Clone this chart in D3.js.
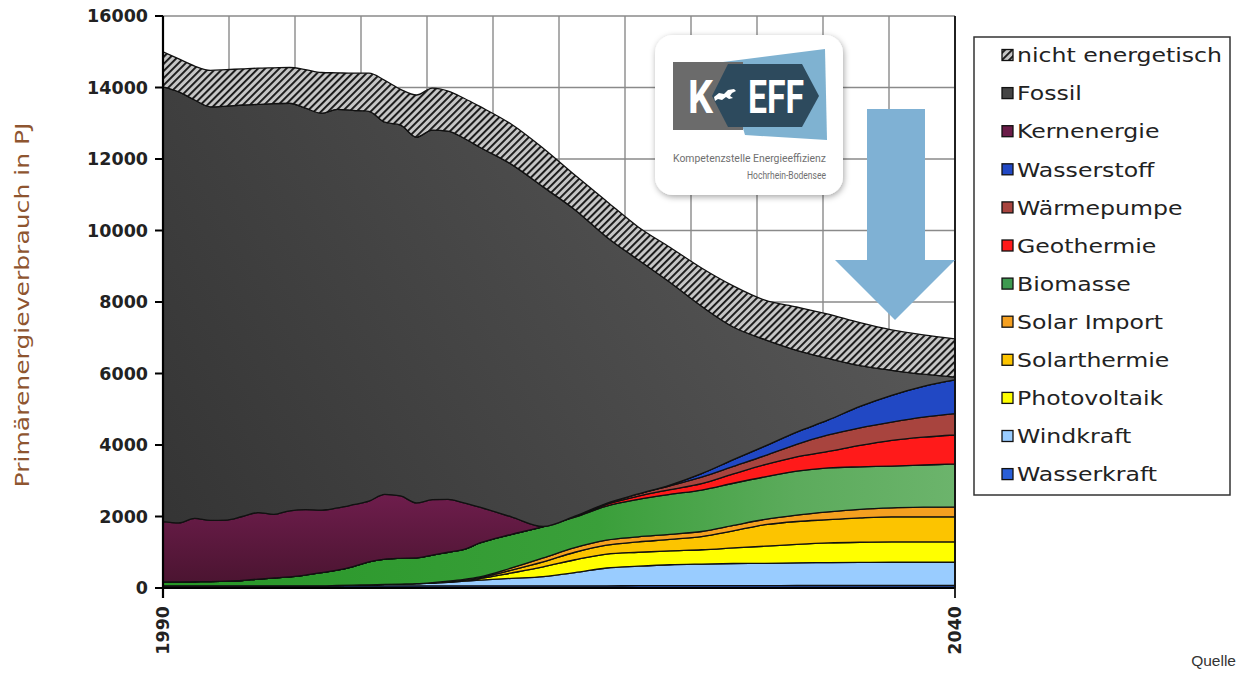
<!DOCTYPE html>
<html><head><meta charset="utf-8">
<script src="https://cdn.jsdelivr.net/npm/d3@7"></script>
<style>body{margin:0;background:#fff;} svg{display:block;}</style>
</head><body><svg id="c" width="1239" height="678"></svg>
<script>
// ---------- DATA (PJ) ----------
const years = [1990,1991,1992,1993,1994,1995,1996,1997,1998,1999,2000,2001,2002,2003,2004,2005,2006,2007,2008,2009,2010,
  2012,2014,2016,2018,2020,2022,2024,2026,2028,2030,2032,2034,2036,2038,2040];
const wasserkraft = [60,60,60,60,60,60,60,60,60,60,60,60,60,60,60,60,60,60,60,60,60,
  60,60,60,60,65,65,65,65,65,70,70,70,70,70,70];
const windkraft = [0,0,0,0,0,0,0,0,0,0,0,10,20,30,40,50,60,80,100,130,160,
  210,260,370,500,545,585,605,620,625,635,640,645,650,650,650];
const photovoltaik = [0,0,0,0,0,0,0,0,0,0,0,0,0,0,0,0,0,5,10,20,40,
  150,270,360,390,390,390,400,435,480,515,550,565,570,570,570];
const solarthermie = [0,0,0,0,0,0,0,0,0,0,0,0,0,0,0,0,0,5,15,20,30,
  80,140,210,250,290,320,370,480,600,640,650,680,700,700,700];
const solarImport = [0,0,0,0,0,0,0,0,0,0,0,0,0,0,0,0,0,0,5,10,20,
  60,110,130,140,140,140,140,150,150,180,220,240,250,270,280];
const biomasse = [110,110,115,120,130,150,190,220,250,300,370,430,520,640,710,720,720,770,810,840,950,
  940,880,850,950,1050,1120,1160,1180,1190,1230,1230,1190,1170,1180,1200];
const geothermie = [0,0,0,0,0,0,0,0,0,0,0,0,0,0,0,0,0,0,0,0,0,
  0,0,20,50,90,130,180,260,340,400,460,600,720,780,810];
const waermepumpe = [0,0,0,0,0,0,0,0,0,0,0,0,0,0,0,0,0,0,0,0,0,
  0,0,10,30,60,110,180,210,250,350,460,490,510,560,600];
const wasserstoff = [0,0,0,0,0,0,0,0,0,0,0,0,0,0,0,0,0,0,0,0,0,
  0,0,0,0,0,20,100,190,270,340,420,600,750,860,940];
const kernenergie = [1685,1650,1775,1710,1710,1790,1860,1780,1850,1830,1750,1740,1730,1700,1810,1745,1540,1550,1480,1300,1000,
  490,0,0,0,0,0,0,0,0,0,0,0,0,0,0];
const fossil = [12165,12060,11700,11570,11580,11510,11420,11490,11400,11230,11100,11150,11030,10900,10410,10375,10230,10340,10300,10200,10070,
  9860,9500,8570,7450,6550,5670,4680,3710,2980,2290,1720,1140,700,340,80];
const nichtEnergetisch = [980,920,950,1020,1020,1010,1010,1000,1000,1080,1140,1020,1040,1070,1170,1000,1180,1170,1120,1120,1140,
  1120,1080,970,1000,920,980,1070,1150,1100,1210,1240,1200,1130,1100,1070];

const seriesNames = ["Wasserkraft","Windkraft","Photovoltaik","Solarthermie","Solar Import","Biomasse",
  "Geothermie","Wärmepumpe","Wasserstoff","Kernenergie","Fossil","nicht energetisch"];
const seriesValues = [wasserkraft,windkraft,photovoltaik,solarthermie,solarImport,biomasse,
  geothermie,waermepumpe,wasserstoff,kernenergie,fossil,nichtEnergetisch];
const yTicks = [0,2000,4000,6000,8000,10000,12000,14000,16000];
const xTickLabels = [1990,2040];
const yTitle = "Primärenergieverbrauch in PJ";
const sourceLabel = "Quelle";
const logoCaption = ["Kompetenzstelle Energieeffizienz","Hochrhein-Bodensee"];

// ---------- STYLE ----------
const fills = {
  "Wasserkraft":"#2a5fd8","Windkraft":"#99ccff","Photovoltaik":"#ffff00","Solarthermie":"#fcc400",
  "Solar Import":"#f5a020","Biomasse":"url(#gBio)","Geothermie":"#ff1a1a","Wärmepumpe":"#a8443e",
  "Wasserstoff":"#2148c4","Kernenergie":"url(#gKern)","Fossil":"url(#gFossil)","nicht energetisch":"url(#hatch)"
};
const legendFills = Object.assign({}, fills, {"Biomasse":"#3e9a50","Kernenergie":"#6a1c48","Fossil":"#444"});

const svg = d3.select("#c");
const W = 1239, H = 678;
const x = d3.scaleLinear().domain([1990,2040]).range([163,955]);
const y = d3.scaleLinear().domain([0,16000]).range([588,16]);

const defs = svg.append("defs");
const hp = defs.append("pattern").attr("id","hatch").attr("patternUnits","userSpaceOnUse")
  .attr("width",5).attr("height",5).attr("patternTransform","rotate(45)");
hp.append("rect").attr("width",5).attr("height",5).attr("fill","#c6c6c6");
hp.append("rect").attr("width",1.9).attr("height",5).attr("fill","#151515");

const gf = defs.append("linearGradient").attr("id","gFossil").attr("gradientUnits","userSpaceOnUse")
  .attr("x1",163).attr("y1",588).attr("x2",900).attr("y2",150);
gf.append("stop").attr("offset","0%").attr("stop-color","#333");
gf.append("stop").attr("offset","100%").attr("stop-color","#5a5a5a");
const gk = defs.append("linearGradient").attr("id","gKern").attr("gradientUnits","userSpaceOnUse")
  .attr("x1",0).attr("y1",495).attr("x2",0).attr("y2",585);
gk.append("stop").attr("offset","0%").attr("stop-color","#6e1d4c");
gk.append("stop").attr("offset","100%").attr("stop-color","#4a1430");
const gb = defs.append("linearGradient").attr("id","gBio").attr("gradientUnits","userSpaceOnUse")
  .attr("x1",163).attr("y1",0).attr("x2",955).attr("y2",0);
gb.append("stop").attr("offset","0%").attr("stop-color","#279727");
gb.append("stop").attr("offset","55%").attr("stop-color","#3a9f3a");
gb.append("stop").attr("offset","80%").attr("stop-color","#5cab5c");
gb.append("stop").attr("offset","100%").attr("stop-color","#6cb46c");
const sh = defs.append("filter").attr("id","shadow").attr("x","-20%").attr("y","-20%").attr("width","140%").attr("height","140%");
sh.append("feDropShadow").attr("dx",1).attr("dy",2).attr("stdDeviation",3).attr("flood-color","#000").attr("flood-opacity",0.35);

svg.append("rect").attr("width",W).attr("height",H).attr("fill","#fff");

// grid
const grid = svg.append("g");
const nV = 12;
d3.range(1, nV+1).forEach(k => {
  const xv = x(1990 + k*50/nV);
  grid.append("line").attr("x1",xv).attr("x2",xv).attr("y1",y(16000)).attr("y2",y(0))
    .attr("stroke","#8a8a8a").attr("stroke-width",1.4);
});
yTicks.filter(t=>t>0).forEach(t => {
  grid.append("line").attr("x1",x(1990)).attr("x2",x(2040)).attr("y1",y(t)).attr("y2",y(t))
    .attr("stroke","#8a8a8a").attr("stroke-width",1.4);
});

// stacked areas
const table = years.map((yr,i) => {
  const o = {year: yr};
  seriesNames.forEach((n,j) => o[n] = seriesValues[j][i]);
  return o;
});
const stack = d3.stack().keys(seriesNames)(table);
const area = d3.area().x(d => x(d.data.year)).y0(d => y(d[0])).y1(d => y(d[1])).curve(d3.curveMonotoneX);
svg.append("g").selectAll("path").data(stack).join("path")
  .attr("d", area).attr("fill", d => fills[d.key])
  .attr("stroke","#111").attr("stroke-width",1.3).attr("stroke-linejoin","round");

// axes
const axG = svg.append("g").attr("font-family","'DejaVu Sans', Verdana, sans-serif");
axG.append("line").attr("x1",x(1990)).attr("x2",x(1990)).attr("y1",y(16000)).attr("y2",y(0)+10).attr("stroke","#000").attr("stroke-width",2.2);
axG.append("line").attr("x1",x(1990)).attr("x2",x(2040)).attr("y1",y(0)).attr("y2",y(0)).attr("stroke","#000").attr("stroke-width",2.2);
axG.append("line").attr("x1",x(2040)).attr("x2",x(2040)).attr("y1",y(16000)).attr("y2",y(0)+10).attr("stroke","#111").attr("stroke-width",1.8);
yTicks.forEach(t => {
  axG.append("line").attr("x1",x(1990)-8).attr("x2",x(1990)).attr("y1",y(t)).attr("y2",y(t)).attr("stroke","#000").attr("stroke-width",2);
  axG.append("text").attr("x",148).attr("y",y(t)).attr("dy","0.36em").attr("text-anchor","end")
    .attr("font-size",17.5).attr("font-weight","bold").attr("fill","#222").text(t);
});
xTickLabels.forEach(v => {
  axG.append("text").attr("transform",`translate(${x(v)},${y(0)+18}) rotate(-90)`)
    .attr("dy","0.36em").attr("text-anchor","end").attr("font-size",17.5).attr("font-weight","bold")
    .attr("fill","#222").text(v);
});
const tt = axG.append("text").attr("transform",`translate(22,305) rotate(-90)`)
  .attr("text-anchor","middle").attr("dy","0.36em").attr("font-size",20).attr("fill","#8e5530").text(yTitle);
tt.attr("textLength",365).attr("lengthAdjust","spacingAndGlyphs");

// legend
const lg = svg.append("g").attr("font-family","'DejaVu Sans', Verdana, sans-serif");
lg.append("rect").attr("x",974).attr("y",37).attr("width",256).attr("height",458)
  .attr("fill","#fff").attr("stroke","#333").attr("stroke-width",1.5);
seriesNames.slice().reverse().forEach((n,i) => {
  const cy = 55 + i*38.1;
  lg.append("rect").attr("x",1002).attr("y",cy-5.5).attr("width",11).attr("height",11)
    .attr("fill",legendFills[n]).attr("stroke","#111").attr("stroke-width",1.3);
  const t = lg.append("text").attr("x",1017).attr("y",cy).attr("dy","0.36em")
    .attr("font-size",20).attr("fill","#222").text(n);
  const w = t.node().getComputedTextLength();
  t.attr("textLength", w*1.18).attr("lengthAdjust","spacingAndGlyphs");
});

// logo
const logo = svg.append("g");
logo.append("rect").attr("x",655).attr("y",35).attr("width",188).attr("height",160).attr("rx",18)
  .attr("fill","#fff").attr("filter","url(#shadow)");
logo.append("polygon").attr("points","723,62 825,49 827,140 745,135").attr("fill","#7fb2d1");
logo.append("rect").attr("x",673).attr("y",62).attr("width",70).attr("height",68).attr("fill","#6b6b6b");
logo.append("polygon").attr("points","712,96 728,64 802,64 819,96 802,127 728,127").attr("fill","#2d4a5d");
logo.append("path").attr("d","M714,97 l5,-4 l5,1 l4,-4 l6,-1 l2,2 l-4,2 l-2,3 l3,2 l-4,1 l-3,-2 l-4,3 l-4,-1 l-3,2 z").attr("fill","#fff");
logo.append("text").attr("x",688).attr("y",113).attr("font-family","'Liberation Sans Narrow','Roboto','Liberation Sans',sans-serif")
  .attr("font-weight","bold").attr("font-size",46).attr("fill","#fff").attr("textLength",25).attr("lengthAdjust","spacingAndGlyphs").text("K");
logo.append("text").attr("x",748).attr("y",113).attr("font-family","'Liberation Sans Narrow','Roboto','Liberation Sans',sans-serif")
  .attr("font-weight","bold").attr("font-size",46).attr("fill","#fff").attr("textLength",56).attr("lengthAdjust","spacingAndGlyphs").text("EFF");
logo.append("text").attr("x",826).attr("y",162).attr("text-anchor","end").attr("font-family","'Liberation Sans Narrow','Roboto',sans-serif")
  .attr("font-size",10.5).attr("fill","#707070").attr("textLength",153).attr("lengthAdjust","spacingAndGlyphs").text(logoCaption[0]);
logo.append("text").attr("x",826).attr("y",179).attr("text-anchor","end").attr("font-family","'Liberation Sans Narrow','Roboto',sans-serif")
  .attr("font-size",10.5).attr("fill","#707070").attr("textLength",79).attr("lengthAdjust","spacingAndGlyphs").text(logoCaption[1]);

// arrow
svg.append("polygon").attr("points","867,109 925,109 925,260 955,260 895,320 835,260 867,260").attr("fill","#7fb1d4");

// source
svg.append("text").attr("x",1236).attr("y",666).attr("text-anchor","end").attr("font-family","'Liberation Sans', Arial, sans-serif")
  .attr("font-size",15.5).attr("fill","#333").text(sourceLabel);
</script></body></html>
